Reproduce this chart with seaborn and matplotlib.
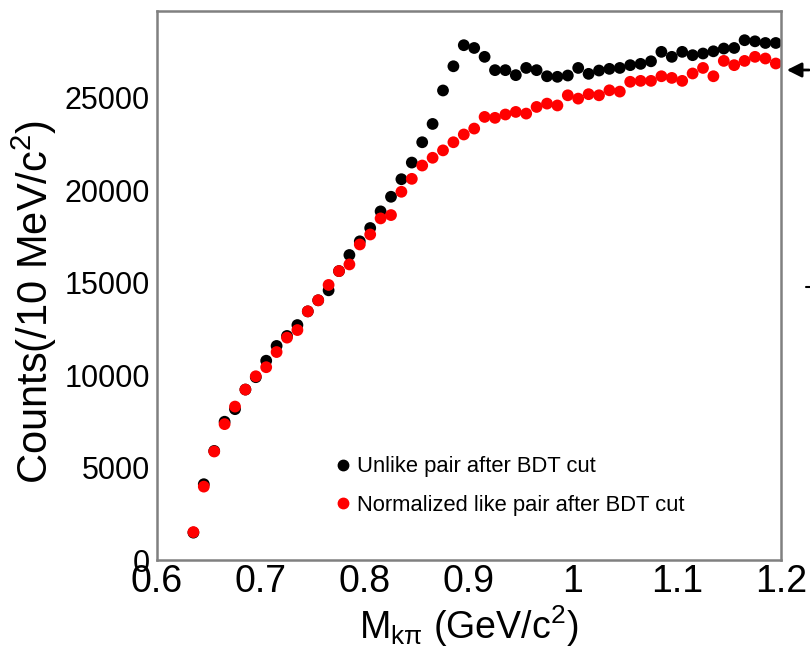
import matplotlib
matplotlib.use("Agg")
import matplotlib.pyplot as plt
from matplotlib.ticker import MultipleLocator
from matplotlib.lines import Line2D
import seaborn as sns
import pandas as pd

# K-pi invariant mass bin centres (10 MeV bins)
mass = [0.635, 0.645, 0.655, 0.665, 0.675, 0.685, 0.695, 0.705, 0.715, 0.725,
        0.735, 0.745, 0.755, 0.765, 0.775, 0.785, 0.795, 0.805, 0.815, 0.825,
        0.835, 0.845, 0.855, 0.865, 0.875, 0.885, 0.895, 0.905, 0.915, 0.925,
        0.935, 0.945, 0.955, 0.965, 0.975, 0.985, 0.995, 1.005, 1.015, 1.025,
        1.035, 1.045, 1.055, 1.065, 1.075, 1.085, 1.095, 1.105, 1.115, 1.125,
        1.135, 1.145, 1.155, 1.165, 1.175, 1.185, 1.195]

unlike_counts = [1480, 4100, 5900, 7480, 8160, 9220, 9890, 10780, 11580, 12120,
                 12710, 13450, 14050, 14590, 15630, 16500, 17240, 17960, 18860, 19650,
                 20600, 21500, 22600, 23590, 25400, 26710, 27850, 27700, 27220, 26500,
                 26500, 26230, 26620, 26500, 26170, 26140, 26210, 26620, 26300, 26480,
                 26570, 26620, 26770, 26840, 26980, 27490, 27220, 27490, 27310, 27400,
                 27520, 27670, 27700, 28120, 28060, 27970, 27970]

like_norm_counts = [1510, 3970, 5870, 7350, 8300, 9220, 9940, 10430, 11250, 12030,
                    12440, 13450, 14050, 14880, 15630, 15990, 17070, 17610, 18480, 18660,
                    19920, 20620, 21340, 21760, 22160, 22600, 23020, 23340, 23970, 23920,
                    24100, 24240, 24150, 24510, 24690, 24590, 25140, 24960, 25200, 25140,
                    25410, 25340, 25870, 25920, 25920, 26170, 26080, 25920, 26320, 26620,
                    26170, 27000, 26770, 27000, 27220, 27130, 26860]

series_names = ["Unlike pair after BDT cut", "Normalized like pair after BDT cut"]
series_colors = ["#000000", "#ff0000"]

x_ticks = [0.6, 0.7, 0.8, 0.9, 1.0, 1.1, 1.2]
x_tick_labels = ["0.6", "0.7", "0.8", "0.9", "1", "1.1", "1.2"]
y_ticks = [0, 5000, 10000, 15000, 20000, 25000]
y_tick_labels = ["0", "5000", "10000", "15000", "20000", "25000"]

df = pd.concat([
    pd.DataFrame({"mass": mass, "counts": unlike_counts, "series": series_names[0]}),
    pd.DataFrame({"mass": mass, "counts": like_norm_counts, "series": series_names[1]}),
], ignore_index=True)

sns.set_theme(style="white")
plt.rcParams["font.family"] = ["Liberation Sans", "DejaVu Sans"]
plt.rcParams["mathtext.fontset"] = "custom"
plt.rcParams["mathtext.rm"] = "Liberation Sans"
plt.rcParams["mathtext.it"] = "Liberation Sans:italic"
plt.rcParams["text.color"] = "black"
plt.rcParams["axes.labelcolor"] = "black"

W, H = 810, 647
fig = plt.figure(figsize=(W / 100, H / 100), dpi=100)
ax = fig.add_axes([157 / W, 1 - 560 / H, 624 / W, 549 / H])

sns.scatterplot(data=df, x="mass", y="counts", hue="series",
                palette=dict(zip(series_names, series_colors)),
                s=72, linewidth=0, edgecolor="none", legend=False, ax=ax)

ax.set_xlim(0.6, 1.2)
ax.set_ylim(0, 29700)
ax.set_xticks(x_ticks)
ax.set_xticklabels(x_tick_labels)
ax.set_yticks(y_ticks)
ax.set_yticklabels(y_tick_labels)
ax.xaxis.set_minor_locator(MultipleLocator(0.02))
ax.yaxis.set_minor_locator(MultipleLocator(1000))

ax.tick_params(axis="both", which="both", direction="in", top=False, right=False,
               colors="#555555", labelcolor="black")
ax.tick_params(axis="both", which="major", length=17, width=1.2)
ax.tick_params(axis="both", which="minor", length=8, width=1.2)
ax.tick_params(axis="x", which="major", labelsize=27, pad=3)
ax.tick_params(axis="y", which="major", labelsize=22, pad=5)

for sp in ax.spines.values():
    sp.set_color("#808080")
    sp.set_linewidth(1.8)

ax.set_xlabel(r"M$_{\mathregular{k\pi}}$ (GeV/c$^{\mathregular{2}}$)", fontsize=27,
              labelpad=2, color="black")
ax.set_ylabel(r"Counts(/10 MeV/c$^{\mathregular{2}}$)", fontsize=30, labelpad=1,
              color="black")
ax.yaxis.set_label_coords(-0.157, 0.47)

handles = [Line2D([], [], marker="o", linestyle="none", color=c, markersize=7.5)
           for c in series_colors]
leg = ax.legend(handles, series_names, loc="upper left", bbox_to_anchor=(0.266, 0.205),
                frameon=False, fontsize=15.8, handletextpad=0.15, labelspacing=0.8,
                borderaxespad=0, handlelength=1.0)
for t in leg.get_texts():
    t.set_color("black")

# Arrow marker at the right-hand edge
ax.annotate("", xy=(784, H - 70), xycoords="figure pixels",
            xytext=(812, H - 70), textcoords="figure pixels",
            arrowprops=dict(arrowstyle="-|>", color="black", lw=2, mutation_scale=22))
fig.add_artist(Line2D([806, 810], [H - 287, H - 287], transform=None,
                      color="black", lw=1.5))

fig.savefig("out.png", dpi=100)
